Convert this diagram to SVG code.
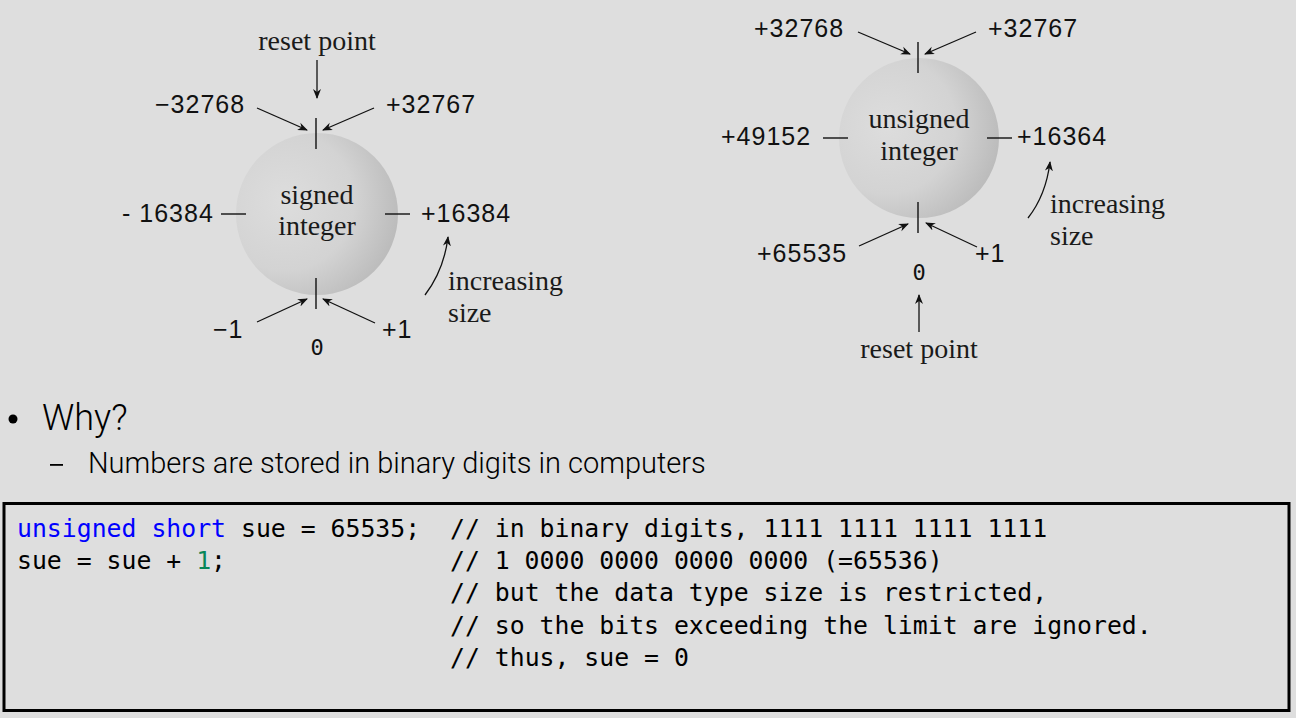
<svg xmlns="http://www.w3.org/2000/svg" width="1296" height="718" viewBox="0 0 1296 718">
<defs>
<radialGradient id="ball" cx="0.3" cy="0.42" r="0.78" fx="0.3" fy="0.42">
<stop offset="0" stop-color="#dddddd"/>
<stop offset="0.55" stop-color="#d3d3d3"/>
<stop offset="1" stop-color="#b6b6b6"/>
</radialGradient>
<marker id="ah" viewBox="0 0 10 10" refX="9" refY="5" markerWidth="10" markerHeight="10" markerUnits="userSpaceOnUse" orient="auto">
<path d="M0,1 L10,5 L0,9 L3,5 Z" fill="#111"/>
</marker>
<style>
.num{font-family:"Liberation Sans",Arial,sans-serif;font-size:25px;letter-spacing:1px;fill:#111;}
.ser{font-family:"Liberation Serif","Times New Roman",serif;font-size:28px;fill:#1a1a1a;}
.zero{font-family:"DejaVu Sans Mono",monospace;font-size:22px;fill:#111;}
.ln{stroke:#111;stroke-width:1.4;fill:none;}
.arr{stroke:#111;stroke-width:1.3;fill:none;marker-end:url(#ah);}
.code{font-family:"DejaVu Sans Mono","Liberation Mono",monospace;font-size:24.8px;fill:#000;}
.kw{fill:#0000ff;}
.lit{fill:#098658;}
.slide{font-family:Roboto,"Liberation Sans",sans-serif;font-weight:300;fill:#000;}
</style>
</defs>
<rect x="0" y="0" width="1296" height="718" fill="#dedede"/>

<g id="signed-diagram">
<circle cx="317" cy="214" r="81" fill="url(#ball)"/>
<text class="ser" x="317" y="204" text-anchor="middle">signed</text>
<text class="ser" x="317" y="235" text-anchor="middle">integer</text>
<text class="ser" x="317" y="50" text-anchor="middle">reset point</text>
<text class="num" x="155" y="113">−32768</text>
<text class="num" x="386" y="113">+32767</text>
<text class="num" x="122" y="222">- 16384</text>
<text class="num" x="421" y="222">+16384</text>
<text class="num" x="213" y="338">−1</text>
<text class="num" x="382" y="338">+1</text>
<text class="zero" x="317" y="355" text-anchor="middle">0</text>
<text class="ser" x="448" y="290">increasing</text>
<text class="ser" x="448" y="322">size</text>
</g>

<g id="unsigned-diagram">
<circle cx="919" cy="138" r="80" fill="url(#ball)"/>
<text class="ser" x="919" y="128" text-anchor="middle">unsigned</text>
<text class="ser" x="919" y="160" text-anchor="middle">integer</text>
<text class="num" x="754" y="37">+32768</text>
<text class="num" x="988" y="37">+32767</text>
<text class="num" x="721" y="145">+49152</text>
<text class="num" x="1017" y="145">+16364</text>
<text class="num" x="757" y="262">+65535</text>
<text class="num" x="975" y="262">+1</text>
<text class="zero" x="919" y="280" text-anchor="middle">0</text>
<text class="ser" x="919" y="358" text-anchor="middle">reset point</text>
<text class="ser" x="1050" y="213">increasing</text>
<text class="ser" x="1050" y="245">size</text>
</g>

<g id="connectors">
<line class="ln" x1="316" y1="118" x2="316" y2="149"/>
<line class="ln" x1="316" y1="278" x2="316" y2="309"/>
<line class="ln" x1="221" y1="214" x2="246" y2="214"/>
<line class="ln" x1="385" y1="214" x2="410" y2="214"/>
<line class="arr" x1="317" y1="60" x2="317" y2="98"/>
<line class="arr" x1="257" y1="108" x2="307" y2="130"/>
<line class="arr" x1="374" y1="108" x2="323" y2="130"/>
<line class="arr" x1="257" y1="322" x2="307" y2="299"/>
<line class="arr" x1="375" y1="323" x2="323" y2="299"/>
<path class="arr" d="M425,295 Q444,270 448,237"/>

<line class="ln" x1="918" y1="42" x2="918" y2="73"/>
<line class="ln" x1="918" y1="202" x2="918" y2="233"/>
<line class="ln" x1="823" y1="138" x2="848" y2="138"/>
<line class="ln" x1="987" y1="138" x2="1012" y2="138"/>
<line class="arr" x1="858" y1="32" x2="910" y2="54"/>
<line class="arr" x1="976" y1="32" x2="925" y2="54"/>
<line class="arr" x1="859" y1="246" x2="908" y2="224"/>
<line class="arr" x1="977" y1="247" x2="926" y2="223"/>
<line class="arr" x1="919" y1="332" x2="919" y2="295"/>
<path class="arr" d="M1028,218 Q1046,195 1050,162"/>
</g>

<g id="bullets">
<circle cx="13" cy="419" r="4.5" fill="#000"/>
<text class="slide" x="42" y="430" font-size="36">Why?</text>
<rect x="50" y="464" width="13" height="1.8" fill="#000"/>
<text class="slide" x="88" y="473" font-size="29">Numbers are stored in binary digits in computers</text>
</g>

<g id="code-box">
<rect x="4" y="503.5" width="1285" height="207" fill="#dedede" stroke="#000" stroke-width="3"/>
<text class="code" x="17" y="537" xml:space="preserve"><tspan class="kw">unsigned</tspan> <tspan class="kw">short</tspan> sue = 65535;  // in binary digits, 1111 1111 1111 1111</text>
<text class="code" x="17" y="569" xml:space="preserve">sue = sue + <tspan class="lit">1</tspan>;               // 1 0000 0000 0000 0000 (=65536)</text>
<text class="code" x="450" y="601">// but the data type size is restricted,</text>
<text class="code" x="450" y="634">// so the bits exceeding the limit are ignored.</text>
<text class="code" x="450" y="666">// thus, sue = 0</text>
</g>
</svg>
